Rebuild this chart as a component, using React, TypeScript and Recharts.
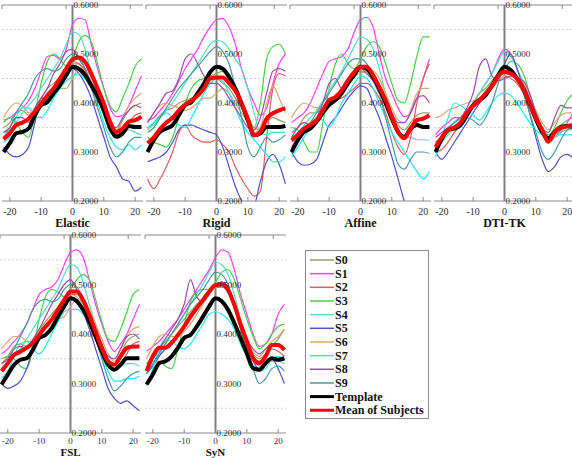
import React from "react";
import {
  LineChart,
  Line,
  XAxis,
  YAxis,
  ReferenceLine,
  ReferenceDot,
} from "recharts";

const xs = [-22, -20, -18, -16, -14, -12, -10, -8, -6, -4, -2, 0, 2, 4, 6, 8, 10, 12, 14, 16, 18, 20, 22];
const seriesNames = ["S0", "S1", "S2", "S3", "S4", "S5", "S6", "S7", "S8", "S9", "Template", "Mean of Subjects"];
const seriesColors = [
  "#9c9c6c", "#ff40ff", "#d9605a", "#4ccc4c", "#5cd8c8", "#5050c8",
  "#d2aa70", "#20f0f0", "#9c4ca8", "#4a9a9a", "#000000", "#ff0000",
];
const xTicks = [-20, -10, 0, 10, 20];
const yLabels = [0.2, 0.3, 0.4, 0.5, 0.6];
const gridLevels = [0.25, 0.35, 0.45, 0.55];

// rows follow seriesNames: S0..S9, Template, Mean of Subjects
const elastic = [
  [.35, .36, .38, .385, .375, .39, .41, .43, .44, .455, .47, .48, .48, .465, .44, .41, .375, .35, .34, .365, .385, .395, .40],
  [.365, .37, .38, .39, .405, .43, .465, .495, .497, .49, .51, .56, .573, .57, .52, .47, .43, .39, .372, .375, .395, .425, .455],
  [.33, .34, .355, .36, .37, .385, .40, .41, .43, .45, .47, .485, .48, .465, .44, .41, .38, .35, .335, .34, .36, .375, .38],
  [.36, .37, .36, .34, .33, .38, .44, .485, .50, .49, .475, .49, .525, .538, .525, .48, .43, .395, .382, .41, .44, .475, .49],
  [.34, .345, .36, .38, .395, .41, .43, .45, .47, .49, .52, .545, .54, .51, .46, .42, .38, .345, .33, .34, .345, .34, .335],
  [.31, .295, .29, .295, .31, .36, .41, .41, .43, .45, .46, .47, .46, .44, .41, .37, .33, .29, .27, .245, .24, .22, .228],
  [.37, .39, .40, .395, .38, .385, .40, .41, .42, .43, .43, .45, .47, .47, .45, .42, .39, .36, .345, .37, .395, .41, .42],
  [.32, .33, .37, .39, .39, .375, .37, .385, .41, .43, .445, .455, .46, .45, .43, .40, .36, .33, .31, .305, .315, .305, .315],
  [.34, .35, .37, .37, .36, .39, .41, .43, .46, .48, .505, .51, .49, .47, .44, .41, .38, .355, .35, .37, .385, .395, .39],
  [.33, .35, .38, .40, .42, .45, .465, .47, .465, .47, .49, .50, .495, .47, .43, .39, .35, .31, .29, .30, .32, .33, .33],
  [.30, .318, .338, .341, .348, .375, .396, .402, .42, .436, .457, .474, .47, .457, .436, .413, .385, .348, .331, .338, .353, .351, .351],
  [.326, .338, .355, .36, .368, .382, .399, .416, .43, .45, .47, .489, .493, .484, .46, .43, .399, .362, .341, .348, .362, .365, .372],
];

const rigid = [
  [.345, .36, .375, .385, .39, .40, .405, .41, .42, .43, .44, .45, .44, .43, .41, .39, .37, .35, .345, .36, .37, .365, .36],
  [.365, .37, .385, .40, .42, .445, .47, .49, .51, .535, .555, .57, .572, .555, .52, .47, .43, .40, .375, .39, .44, .48, .50],
  [.245, .225, .245, .27, .30, .34, .355, .335, .325, .32, .32, .325, .315, .30, .27, .245, .225, .21, .22, .33, .43, .46, .455],
  [.33, .32, .315, .31, .33, .37, .40, .43, .445, .45, .455, .46, .465, .46, .43, .40, .37, .35, .40, .49, .515, .52, .50],
  [.35, .355, .37, .385, .40, .42, .44, .46, .48, .50, .52, .528, .525, .51, .49, .47, .43, .38, .34, .335, .34, .34, .34],
  [.28, .285, .29, .30, .32, .345, .355, .355, .35, .345, .34, .335, .31, .27, .23, .20, .18, .19, .24, .28, .295, .275, .235],
  [.36, .38, .395, .40, .395, .39, .385, .39, .40, .41, .41, .42, .43, .42, .40, .38, .36, .34, .35, .40, .435, .41, .38],
  [.35, .36, .37, .38, .37, .355, .35, .37, .395, .42, .44, .45, .445, .42, .39, .36, .34, .325, .31, .295, .28, .28, .29],
  [.36, .38, .40, .42, .425, .45, .49, .50, .48, .455, .44, .44, .43, .41, .39, .37, .35, .345, .37, .42, .465, .47, .465],
  [.34, .35, .37, .39, .41, .43, .445, .46, .475, .49, .505, .515, .505, .48, .43, .37, .31, .29, .31, .33, .32, .325, .335],
  [.30, .324, .341, .348, .355, .375, .396, .402, .42, .44, .463, .474, .47, .453, .43, .399, .365, .334, .338, .351, .351, .351, .353],
  [.318, .33, .347, .36, .37, .385, .397, .405, .415, .43, .45, .452, .452, .44, .425, .40, .368, .334, .341, .368, .379, .385, .389],
];

const affine = [
  [.34, .35, .37, .38, .38, .39, .40, .41, .43, .445, .46, .465, .46, .445, .42, .40, .375, .355, .345, .36, .375, .38, .38],
  [.36, .37, .38, .40, .43, .46, .485, .49, .495, .51, .545, .57, .575, .555, .50, .45, .42, .39, .372, .38, .41, .45, .49],
  [.31, .33, .35, .36, .37, .385, .40, .405, .41, .42, .43, .44, .44, .43, .41, .38, .34, .31, .295, .33, .40, .45, .48],
  [.35, .345, .32, .30, .30, .36, .43, .48, .50, .48, .47, .49, .515, .525, .515, .48, .44, .405, .40, .44, .495, .535, .535],
  [.33, .34, .355, .37, .385, .405, .425, .445, .465, .49, .515, .535, .53, .51, .47, .42, .38, .34, .33, .33, .325, .325, .324],
  [.30, .28, .273, .275, .285, .32, .355, .37, .39, .41, .425, .435, .43, .40, .37, .33, .29, .245, .20, .17, .15, .14, .13],
  [.37, .39, .40, .395, .39, .395, .40, .41, .42, .44, .455, .46, .465, .465, .45, .42, .39, .365, .36, .385, .42, .43, .43],
  [.29, .31, .33, .35, .37, .365, .35, .37, .40, .42, .44, .455, .45, .43, .40, .37, .34, .32, .30, .28, .26, .245, .26],
  [.33, .35, .36, .355, .37, .40, .44, .45, .43, .44, .46, .47, .46, .445, .42, .40, .38, .36, .36, .38, .41, .415, .40],
  [.32, .33, .34, .36, .38, .40, .42, .44, .46, .48, .49, .49, .48, .455, .42, .37, .32, .275, .265, .285, .30, .30, .297],
  [.30, .324, .341, .348, .362, .38, .396, .406, .42, .44, .457, .474, .47, .453, .43, .40, .368, .341, .331, .348, .355, .351, .351],
  [.324, .335, .348, .355, .365, .385, .406, .412, .426, .446, .463, .474, .474, .457, .433, .406, .372, .341, .328, .348, .365, .368, .375],
];

const dtiTk = [
  [.31, .325, .34, .35, .36, .375, .39, .405, .42, .435, .45, .465, .46, .45, .43, .405, .375, .345, .33, .34, .355, .365, .37],
  [.335, .35, .36, .37, .37, .38, .40, .42, .44, .46, .49, .51, .50, .47, .44, .41, .38, .35, .33, .33, .34, .36, .38],
  [.30, .305, .32, .34, .355, .375, .39, .40, .415, .43, .445, .455, .45, .44, .42, .39, .36, .335, .32, .33, .345, .355, .36],
  [.32, .33, .34, .35, .36, .38, .40, .42, .43, .445, .46, .47, .485, .48, .46, .42, .38, .35, .335, .35, .38, .405, .42],
  [.31, .32, .335, .35, .365, .38, .40, .42, .44, .46, .485, .505, .495, .47, .44, .41, .375, .345, .325, .33, .34, .345, .345],
  [.30, .285, .30, .32, .34, .36, .38, .40, .42, .43, .45, .48, .50, .47, .43, .38, .33, .285, .26, .27, .29, .295, .287],
  [.37, .375, .385, .39, .395, .40, .405, .41, .42, .43, .445, .455, .46, .455, .44, .415, .385, .36, .345, .36, .375, .38, .38],
  [.29, .33, .37, .40, .395, .385, .375, .365, .38, .40, .415, .42, .415, .40, .38, .36, .345, .335, .33, .335, .335, .335, .335],
  [.33, .34, .35, .36, .37, .39, .42, .475, .49, .455, .445, .45, .455, .45, .445, .42, .38, .35, .34, .37, .395, .39, .39],
  [.32, .33, .345, .36, .37, .37, .365, .355, .37, .40, .44, .475, .47, .45, .42, .38, .34, .30, .285, .30, .325, .345, .35],
  [.30, .327, .345, .348, .355, .375, .396, .406, .416, .436, .457, .474, .467, .45, .43, .40, .368, .341, .328, .341, .351, .353, .351],
  [.31, .33, .345, .35, .36, .38, .395, .405, .42, .435, .455, .464, .46, .45, .43, .40, .37, .345, .321, .34, .35, .352, .353],
];

const fsl = [
  [.34, .355, .375, .38, .375, .385, .405, .425, .44, .455, .47, .48, .475, .46, .435, .405, .375, .35, .34, .36, .385, .395, .40],
  [.36, .37, .385, .40, .42, .45, .48, .49, .495, .51, .54, .565, .57, .555, .51, .46, .42, .385, .365, .38, .40, .43, .46],
  [.33, .34, .355, .36, .37, .385, .40, .41, .43, .45, .47, .48, .48, .465, .44, .41, .375, .345, .33, .34, .36, .38, .385],
  [.35, .355, .35, .335, .33, .37, .43, .475, .49, .485, .475, .49, .51, .52, .51, .47, .425, .39, .385, .41, .445, .48, .49],
  [.33, .34, .355, .37, .39, .41, .43, .45, .47, .49, .52, .54, .535, .505, .46, .42, .38, .345, .33, .335, .34, .34, .335],
  [.30, .29, .295, .305, .33, .37, .40, .41, .43, .45, .465, .475, .465, .445, .41, .37, .33, .29, .27, .26, .265, .255, .245],
  [.37, .385, .395, .395, .385, .385, .40, .41, .42, .43, .435, .455, .47, .47, .45, .42, .39, .36, .345, .37, .395, .41, .415],
  [.31, .325, .355, .38, .385, .37, .36, .375, .40, .425, .445, .45, .45, .44, .42, .39, .355, .325, .305, .305, .31, .31, .315],
  [.34, .35, .37, .375, .37, .39, .41, .435, .46, .48, .50, .51, .49, .47, .44, .41, .38, .355, .35, .37, .395, .40, .39],
  [.33, .345, .37, .395, .42, .45, .465, .47, .465, .47, .49, .50, .495, .47, .43, .39, .35, .31, .285, .295, .31, .32, .325],
  [.298, .318, .338, .348, .351, .368, .392, .398, .412, .435, .456, .472, .466, .449, .425, .395, .365, .338, .328, .338, .351, .351, .351],
  [.325, .341, .358, .365, .372, .382, .398, .415, .429, .449, .469, .486, .486, .469, .439, .405, .372, .345, .338, .355, .372, .375, .375],
];

const syn = [
  [.34, .355, .37, .385, .40, .415, .43, .445, .46, .47, .485, .495, .495, .485, .46, .425, .39, .36, .35, .36, .375, .39, .41],
  [.365, .375, .385, .40, .415, .43, .45, .47, .49, .51, .53, .555, .57, .565, .53, .48, .44, .40, .375, .38, .40, .44, .46],
  [.33, .35, .365, .375, .385, .40, .415, .43, .45, .465, .48, .495, .50, .49, .46, .42, .385, .355, .345, .355, .37, .365, .355],
  [.34, .345, .345, .335, .33, .37, .42, .465, .485, .49, .49, .505, .525, .53, .51, .47, .43, .395, .37, .38, .40, .415, .42],
  [.32, .34, .36, .38, .40, .42, .44, .46, .48, .50, .525, .545, .54, .52, .48, .43, .39, .355, .335, .34, .345, .345, .34],
  [.32, .335, .355, .37, .385, .40, .42, .44, .455, .47, .485, .50, .505, .495, .465, .42, .38, .345, .33, .34, .35, .33, .30],
  [.35, .375, .395, .40, .395, .395, .405, .42, .44, .46, .48, .495, .50, .49, .465, .43, .395, .365, .355, .37, .385, .395, .41],
  [.295, .33, .37, .39, .385, .375, .37, .38, .40, .42, .44, .445, .44, .43, .41, .38, .355, .335, .325, .33, .35, .355, .35],
  [.33, .35, .37, .39, .41, .43, .46, .51, .475, .465, .48, .50, .505, .49, .46, .42, .39, .37, .36, .37, .38, .375, .37],
  [.32, .34, .36, .38, .40, .42, .44, .46, .475, .49, .51, .525, .52, .50, .46, .41, .37, .33, .30, .31, .33, .335, .325],
  [.298, .318, .341, .345, .355, .372, .392, .398, .415, .435, .456, .472, .466, .449, .422, .392, .361, .331, .328, .341, .351, .348, .351],
  [.325, .355, .372, .372, .382, .398, .415, .435, .452, .469, .486, .499, .50, .489, .459, .419, .385, .351, .341, .355, .378, .378, .368],
];

const panels = [
  { title: "Elastic", rows: elastic, left: 1.5, top: 5, h: 196, labelDy: 14, labelSize: 10, titleDy: 26, titleSize: 12 },
  { title: "Rigid", rows: rigid, left: 146, top: 5, h: 196, labelDy: 14, labelSize: 10, titleDy: 26, titleSize: 12 },
  { title: "Affine", rows: affine, left: 290, top: 5, h: 196, labelDy: 14, labelSize: 10, titleDy: 26, titleSize: 12 },
  { title: "DTI-TK", rows: dtiTk, left: 434, top: 5, h: 196, labelDy: 14, labelSize: 10, titleDy: 26, titleSize: 12 },
  { title: "FSL", rows: fsl, left: -0.5, top: 235, h: 198, labelDy: 10.5, labelSize: 9, titleDy: 22.5, titleSize: 11 },
  { title: "SyN", rows: syn, left: 145, top: 235, h: 198, labelDy: 10.5, labelSize: 9, titleDy: 22.5, titleSize: 11 },
];

const PLOT_W = 141;
const M = 20;
const SERIF = "'Liberation Serif', 'Times New Roman', serif";
const AXIS_GRAY = "#8a8a8a";

type PanelProps = {
  title: string;
  rows: number[][];
  left: number;
  top: number;
  h: number;
  labelDy: number;
  labelSize: number;
  titleDy: number;
  titleSize: number;
};

function Panel({ title, rows, left, top, h, labelDy, labelSize, titleDy, titleSize }: PanelProps) {
  const data = xs.map((x, i) => {
    const row: Record<string, number> = { x };
    rows.forEach((r, k) => {
      row["k" + k] = r[i];
    });
    return row;
  });

  const bottomTick = (p: any) => (
    <g>
      <line x1={p.x} x2={p.x} y1={p.y} y2={p.y - 4} stroke={AXIS_GRAY} />
      <text x={p.x} y={p.y + labelDy} textAnchor="middle" fontSize={labelSize} fontFamily={SERIF} fill="#333">
        {p.payload.value}
      </text>
      {p.payload.value === 0 && (
        <text x={p.x} y={p.y + titleDy} textAnchor="middle" fontSize={titleSize} fontWeight="bold" fontFamily={SERIF} fill="#111">
          {title}
        </text>
      )}
    </g>
  );
  const topTick = (p: any) => <line x1={p.x} x2={p.x} y1={p.y} y2={p.y + 4} stroke={AXIS_GRAY} />;

  return (
    <div style={{ position: "absolute", left: left - M, top: top - 10 }}>
      <LineChart width={PLOT_W + 2 * M} height={h + 50} data={data} margin={{ top: 9, right: M, bottom: 39, left: M - 1 }}>
        <XAxis
          dataKey="x"
          type="number"
          domain={[-22.5, 22.5]}
          ticks={xTicks}
          allowDataOverflow
          height={1}
          tickSize={0}
          tickMargin={0}
          axisLine={{ stroke: AXIS_GRAY }}
          tickLine={false}
          tick={bottomTick}
        />
        <XAxis
          xAxisId="top"
          orientation="top"
          type="number"
          domain={[-22.5, 22.5]}
          ticks={xTicks}
          allowDataOverflow
          height={1}
          tickSize={0}
          tickMargin={0}
          axisLine={{ stroke: AXIS_GRAY }}
          tickLine={false}
          tick={topTick}
        />
        <YAxis
          type="number"
          domain={[0.2, 0.6]}
          ticks={yLabels}
          allowDataOverflow
          width={1}
          axisLine={false}
          tickLine={false}
          tick={false}
        />
        {gridLevels.map((v) => (
          <ReferenceLine key={"g" + v} y={v} stroke="#cfd0dc" strokeDasharray="2 2" />
        ))}
        <ReferenceLine x={0} stroke="#808080" strokeWidth={2} />
        {seriesNames.map((n, k) => (
          <Line
            key={n}
            dataKey={"k" + k}
            name={n}
            type="monotone"
            stroke={seriesColors[k]}
            strokeWidth={k >= 10 ? 4 : 1.2}
            dot={false}
            isAnimationActive={false}
          />
        ))}
        {yLabels.map((v) => (
          <ReferenceDot
            key={v}
            x={0}
            y={v}
            r={0}
            shape={(p: any) => (
              <text x={p.cx + 1} y={p.cy + 3} fontSize={9} fontFamily={SERIF} fill="#333">
                {v.toFixed(4)}
              </text>
            )}
          />
        ))}
      </LineChart>
    </div>
  );
}

function LegendBox() {
  const step = 13.66;
  return (
    <svg width={124} height={169} style={{ position: "absolute", left: 305, top: 250 }}>
      <rect x={0.5} y={0.5} width={123} height={168} fill="#fff" stroke="#8a8a8a" />
      {seriesNames.map((n, k) => {
        const y = 10 + k * step;
        return (
          <g key={n}>
            <line x1={5} x2={29} y1={y} y2={y} stroke={seriesColors[k]} strokeWidth={k >= 10 ? 3 : 1.5} />
            <text x={30} y={y + 4} fontSize={12} fontWeight="bold" fontFamily={SERIF} fill="#111">
              {n}
            </text>
          </g>
        );
      })}
    </svg>
  );
}

export default function App() {
  return (
    <div style={{ position: "absolute", left: 0, top: 0, width: 572, height: 458, background: "#fff", overflow: "hidden" }}>
      {panels.map((p) => (
        <Panel key={p.title} {...p} />
      ))}
      <LegendBox />
    </div>
  );
}
